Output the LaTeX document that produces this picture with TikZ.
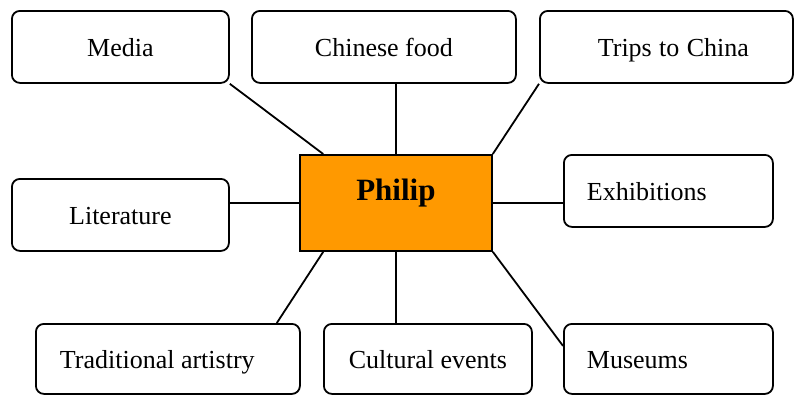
\documentclass[tikz,border=0pt]{standalone}
\usepackage{fontspec}
\setmainfont{Liberation Serif}
\usetikzlibrary{calc}
\definecolor{hubfill}{RGB}{255,153,0}
\tikzset{
  leaf/.style={draw, line width=1.8pt, rounded corners=8pt, anchor=north west,
    inner ysep=0pt, inner xsep=0pt, align=center,
    font=\fontsize{26}{30}\selectfont, text height=20pt, text depth=0pt,
    execute at begin node={\spaceskip=0pt\xspaceskip=0pt}},
  hub/.style={draw, line width=1.8pt, fill=hubfill, anchor=north west,
    inner sep=0pt, font=\fontsize{31}{36}\selectfont\bfseries,
    text height=20pt, text depth=24pt, minimum width=192pt, minimum height=96pt},
  link/.style={line width=1.8pt}
}
\begin{document}
\begin{tikzpicture}[x=1pt,y=-1pt]
\useasboundingbox (0,0) rectangle (794,394);

% central topic
\node[hub] (philip) at (299,154) {Philip};

% surrounding topics
\node[leaf, minimum width=217pt, minimum height=72pt] (media) at (11,10) {Media};
\node[leaf, minimum width=264pt, minimum height=72pt] (food) at (251,10) {Chinese food};
\node[leaf, minimum width=253pt, minimum height=72pt, text width=165pt, align=right] (trips) at (539,10) {Trips to China};
\node[leaf, minimum width=217pt, minimum height=72pt] (lit) at (11,178) {Literature};
\node[leaf, minimum width=209pt, minimum height=72pt, text width=163pt, align=left] (exh) at (563,154) {Exhibitions};
\node[leaf, minimum width=264pt, minimum height=70pt, text width=216pt, align=left] (trad) at (35,323) {Traditional artistry};
\node[leaf, minimum width=208pt, minimum height=70pt] (events) at (323,323) {Cultural events};
\node[leaf, minimum width=209pt, minimum height=70pt, text width=163pt, align=left] (mus) at (563,323) {Museums};

% connectors
\draw[link] (media.south east) -- ($(philip.north west)!0.125!(philip.north east)$);
\draw[link] (food.south -| philip.north) -- (philip.north);
\draw[link] (trips.south west) -- (philip.north east);
\draw[link] (philip.west -| lit.east) -- (philip.west);
\draw[link] (philip.east) -- (philip.east -| exh.west);
\draw[link] ($(philip.south west)!0.125!(philip.south east)$) -- ($(trad.north east)+(-24,0)$);
\draw[link] (philip.south) -- (philip.south |- events.north);
\draw[link] (philip.south east) -- ($(mus.west)+(0,-13)$);
\end{tikzpicture}
\end{document}
